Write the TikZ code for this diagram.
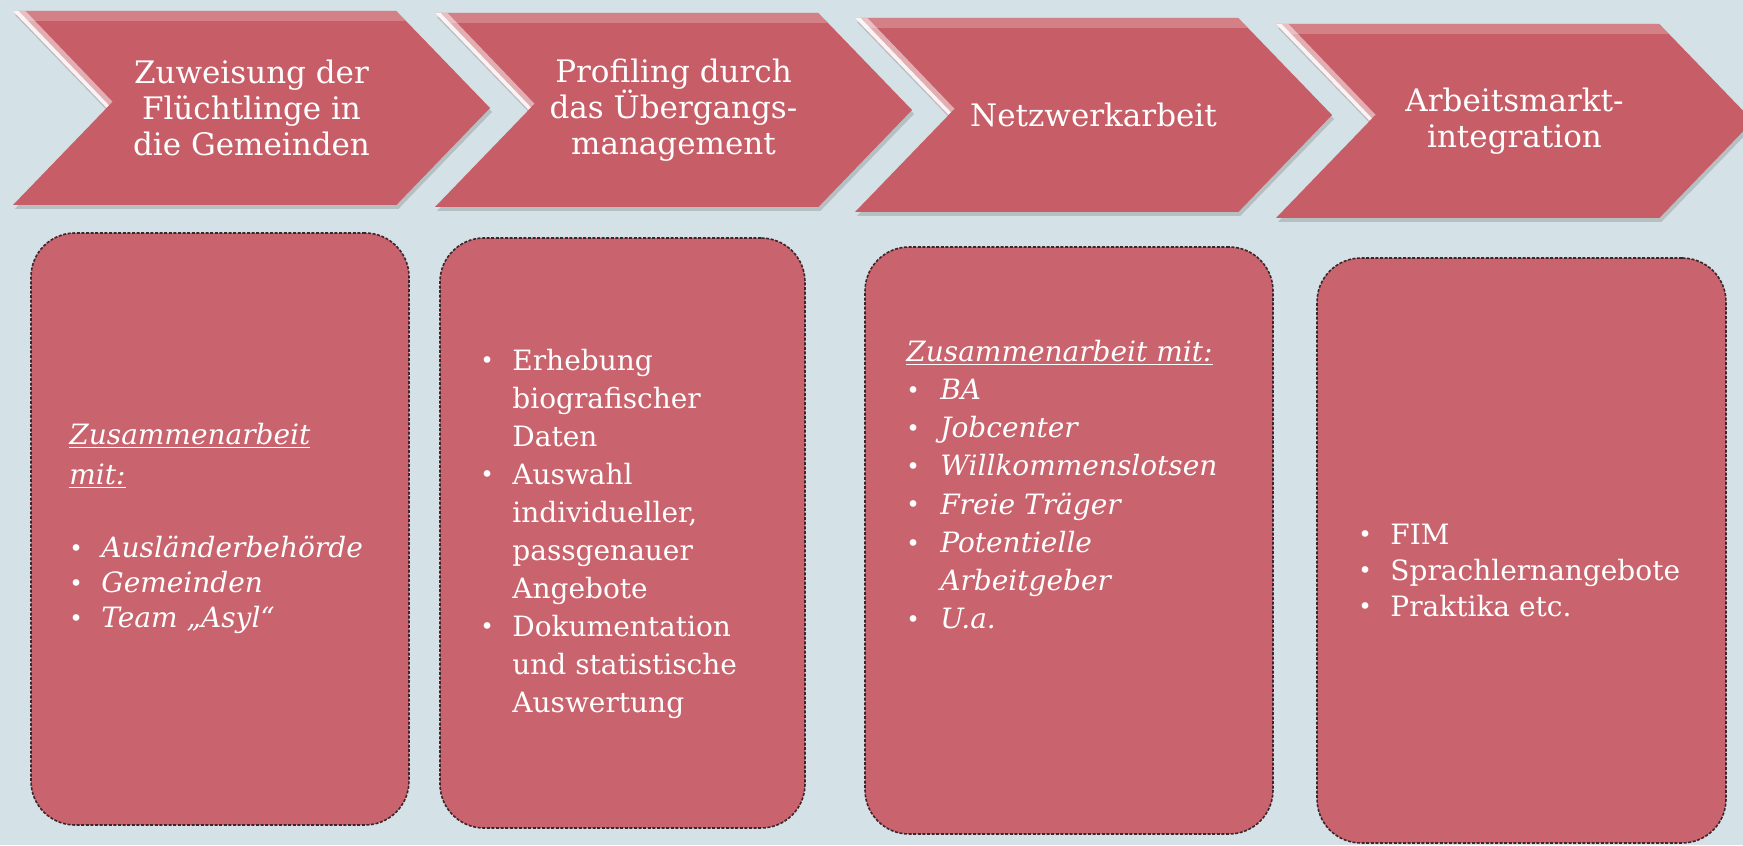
\documentclass[tikz,border=0pt]{standalone}
\usepackage{fontspec}
\setmainfont{DejaVu Serif}
\definecolor{bgblue}{RGB}{212,225,230}
\definecolor{chevred}{RGB}{199,93,102}
\definecolor{boxred}{RGB}{201,99,109}
\definecolor{rimdark}{RGB}{60,38,44}
\usetikzlibrary{shapes.symbols, shadows}
\newcommand{\listbul}[1][16pt]{\makebox[#1][l]{\raisebox{0.6pt}{\fontsize{11.5}{11.5}\selectfont\textbullet}}}
\newcommand{\listcont}[1][16pt]{\hspace*{#1}}

\begin{document}
\begin{tikzpicture}[
  x=0.5pt, y=-0.5pt,
  chevron/.style={signal, signal from=west, signal to=east, signal pointer angle=92,
    minimum width=238.5pt, minimum height=97pt, inner sep=0pt, fill=chevred,
    text=white, align=center, font=\fontsize{15.5}{18}\selectfont,
    drop shadow={shadow xshift=1pt, shadow yshift=-2pt, opacity=.35},
    path picture={
      \draw[white, opacity=.22, line width=10pt] (path picture bounding box.north west) -- (path picture bounding box.north east);
      \draw[white, opacity=.5, line width=9pt] (path picture bounding box.north west) -- ++(46.5pt,-48.5pt);
      \draw[white, opacity=.85, line width=4pt] (path picture bounding box.north west) -- ++(46.5pt,-48.5pt);
    }},
  panel/.style={draw=rimdark, line width=0.8pt, dash pattern=on 1.5pt off 0.8pt, fill=boxred, rounded corners=22pt},
  listtext/.style={anchor=west, inner sep=0pt, text=white, align=left}
]
  % Background
  \useasboundingbox (0,0) rectangle (1743,845);
  \fill[bgblue] (0,0) rectangle (1743,845);

  % Process chevrons
  \node[chevron] (zuw) at (251.5, 108) {Zuweisung der\\Flüchtlinge in\\die Gemeinden};
  \node[chevron] (prof) at (673.5, 110) {Profiling durch\\das Übergangs-\\management};
  \node[chevron] (netz) at (1093.5, 115) {Netzwerkarbeit};
  \node[chevron] (amarkt) at (1514.5, 121) {Arbeitsmarkt-\\integration};

  % Panels below the chevrons
  \node[panel, minimum width=189pt, minimum height=296pt] (boxzuw) at (220, 529) {};
  \node[panel, minimum width=182.5pt, minimum height=295pt] (boxprof) at (622.5, 533) {};
  \node[panel, minimum width=204pt, minimum height=293.5pt] (boxnetz) at (1069, 540.5) {};
  \node[panel, minimum width=204.5pt, minimum height=292.5pt] (boxamarkt) at (1521.5, 550.5) {};

  % Panel 1
  \node[listtext, font=\itshape\fontsize{14}{20}\selectfont] (hdrzuw) at (69, 456)
    {\underline{Zusammenarbeit}\\\underline{mit:}};
  \node[listtext, font=\itshape\fontsize{14}{17.5}\selectfont] (lstzuw) at (69, 585)
    {\listbul Ausländerbehörde\\\listbul Gemeinden\\\listbul Team „Asyl“};

  % Panel 2
  \node[listtext, font=\fontsize{14}{19}\selectfont] (lstprof) at (480, 533.5)
    {\listbul Erhebung\\\listcont biografischer\\\listcont Daten\\
     \listbul Auswahl\\\listcont individueller,\\\listcont passgenauer\\\listcont Angebote\\
     \listbul Dokumentation\\\listcont und statistische\\\listcont Auswertung};

  % Panel 3
  \node[listtext, font=\itshape\fontsize{14}{19.1}\selectfont] (lstnetz) at (906, 484.5)
    {\underline{Zusammenarbeit mit:}\\\listbul[12.5pt] BA\\\listbul[12.5pt] Jobcenter\\
     \listbul[12.5pt] Willkommenslotsen\\\listbul[12.5pt] Freie Träger\\
     \listbul[12.5pt] Potentielle\\\listcont[12.5pt] Arbeitgeber\\\listbul[12.5pt] U.a.};

  % Panel 4
  \node[listtext, font=\fontsize{14}{18}\selectfont] (lstamarkt) at (1358, 570)
    {\listbul FIM\\\listbul Sprachlernangebote\\\listbul Praktika etc.};
\end{tikzpicture}
\end{document}
